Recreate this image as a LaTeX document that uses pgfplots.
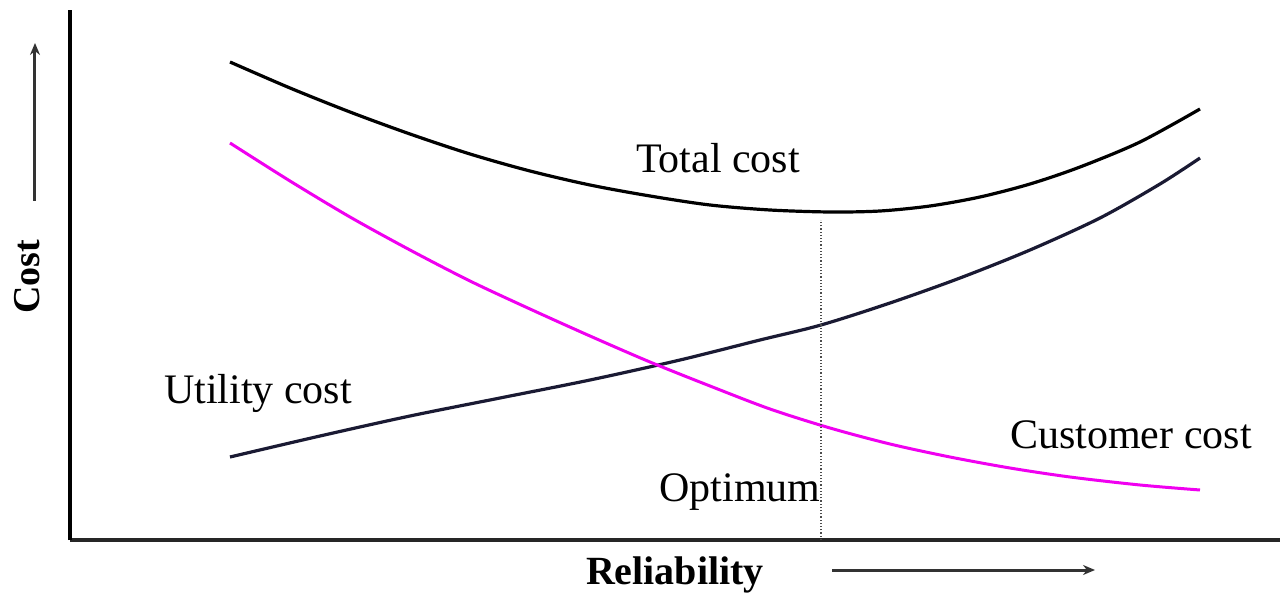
\documentclass[border=0pt]{standalone}
\usepackage{pgfplots}
\pgfplotsset{compat=1.18}
\usepackage{fontspec}
\setmainfont{Liberation Serif}
\usetikzlibrary{arrows.meta}
\definecolor{navy}{HTML}{1A1A33}
\definecolor{mag}{HTML}{F000F0}
\begin{document}
\begin{tikzpicture}
\begin{axis}[
  width=605pt, height=265pt, scale only axis,
  xmin=70, xmax=1280, ymin=0, ymax=530,
  axis x line=bottom, axis y line=left,
  x axis line style={-, line width=1.6pt, black!85},
  y axis line style={-, line width=2pt, black},
  ticks=none, clip=false,
]
\path (axis cs:0,-52) rectangle (axis cs:1285,540);
% Total cost
\addplot[black, line width=1.6pt, smooth] coordinates {
(230,478) (290,452) (350,428) (410,406) (470,386) (530,369) (590,355) (650,344) (710,335) (770,330) (830,328) (880,329) (930,334) (980,343) (1030,356) (1080,373) (1140,398) (1200,431)};
% Utility cost
\addplot[navy, line width=1.6pt, smooth] coordinates {
(230,83) (320,104) (410,124) (500,142) (590,160) (680,180) (760,200) (821,215) (890,237) (960,262) (1030,290) (1100,322) (1160,356) (1200,382)};
% Customer cost
\addplot[mag, line width=1.5pt, smooth] coordinates {
(230,397) (290,359) (350,323) (410,290) (470,259) (530,231) (590,204) (650,178) (710,154) (770,131) (830,112) (890,96) (950,83) (1010,72) (1070,63) (1140,55) (1200,50)};
% optimum line
\addplot[black!70, densely dotted, line width=0.6pt] coordinates {(821,0) (821,320)};
\node[font=\fontsize{21}{24}\selectfont] at (axis cs:718,382) {Total cost};
\node[font=\fontsize{21}{24}\selectfont] at (axis cs:258,147) {Utility cost};
\node[font=\fontsize{21}{24}\selectfont] at (axis cs:1131,105) {Customer cost};
\node[font=\fontsize{21}{24}\selectfont] at (axis cs:740,48) {Optimum};
\node[font=\fontsize{20}{24}\selectfont\bfseries] at (axis cs:675,-35) {Reliability};
\draw[-{Stealth[length=6pt,width=5pt]}, line width=1.5pt, black!80] (axis cs:832,-30) -- (axis cs:1095,-30);
\node[font=\fontsize{19}{22}\selectfont\bfseries, rotate=90] at (axis cs:27,263) {Cost};
\draw[-{Stealth[length=6pt,width=5pt]}, line width=1.5pt, black!80] (axis cs:35,339) -- (axis cs:35,497);
\end{axis}
\end{tikzpicture}
\end{document}
